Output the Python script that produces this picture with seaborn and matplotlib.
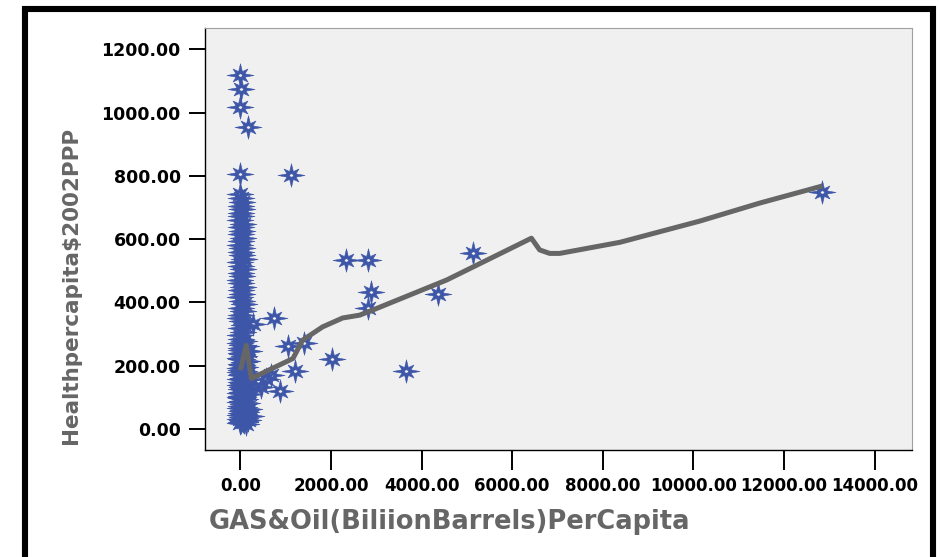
import numpy as np
import pandas as pd
import matplotlib
matplotlib.use("Agg")
import matplotlib.pyplot as plt
from matplotlib.path import Path
from matplotlib.patches import Rectangle
import seaborn as sns

# Countries far from the main cluster
oil_outliers = [0, 22, 0, 168, 0, 1126, 2331, 2817, 2876, 2817, 4362, 3664, 2015,
                1214, 1051, 1397, 735, 278, 868, 574, 684, 464, 316, 5128, 12831]
health_outliers = [1117, 1074, 1017, 954, 805, 803, 534, 534, 432, 381, 427, 184, 221,
                   184, 262, 273, 350, 331, 120, 157, 171, 134, 134, 556, 749]

# Countries with little or no gas & oil per capita
oil_cluster = [0, 15, 30, 5, 40, 10, 25, 0, 50, 18, 35, 5, 60, 22, 0, 45, 12, 30, 70, 3,
               25, 55, 8, 38, 0, 20, 65, 10, 42, 0, 28, 80, 6, 50, 15, 0, 35, 75, 10, 55,
               0, 25, 90,
               0, 30, 120, 10, 60, 200, 5, 40, 90, 0, 25, 150, 70, 8, 45, 110, 0, 20, 80,
               180, 35, 5, 130, 60, 0, 95, 15, 50, 160, 0, 30, 75, 10, 120, 45, 0, 200,
               25, 65, 5, 100, 35, 0, 150, 55, 15, 85, 0, 190, 40, 120, 8, 70, 0, 230,
               28, 100, 0, 160, 50, 12, 80, 0, 120, 35, 60, 0, 20, 0, 40, 10]
health_cluster = [742, 731, 718, 706, 695, 684, 672, 660, 649, 638, 626, 615, 604, 593,
                  582, 571, 560, 549, 538, 527, 516, 505, 494, 483, 472, 461, 450, 439,
                  428, 417, 406, 395, 384, 373, 362, 351, 340, 329, 318, 307, 296, 285,
                  278,
                  272, 266, 262, 256, 250, 246, 241, 236, 231, 226, 221, 216, 211, 206,
                  201, 197, 192, 187, 183, 178, 174, 170, 166, 162, 158, 154, 150, 146,
                  142, 138, 134, 130, 126, 122, 118, 114, 110, 106, 102, 98, 94, 90, 86,
                  82, 78, 74, 70, 66, 62, 58, 55, 52, 48, 45, 42, 39, 36, 33, 30, 27, 24,
                  21, 18, 16, 30, 60, 100, 140, 180, 220, 250]

# Smoothed fit line
fit_oil = [0, 132, 243, 1161, 1375, 1817, 2258, 2634, 2921, 4554, 6424, 6607, 6828,
           7049, 8376, 10139, 11464, 12847]
fit_health = [186, 265, 160, 223, 281, 323, 351, 360, 376, 471, 603, 566, 555,
              555, 590, 657, 714, 768]

x_ticks = [0, 2000, 4000, 6000, 8000, 10000, 12000, 14000]
y_ticks = [0, 200, 400, 600, 800, 1000, 1200]

points = pd.DataFrame({
    "oil": oil_cluster + oil_outliers,
    "health": health_cluster + health_outliers,
})
fit = pd.DataFrame({"oil": fit_oil, "health": fit_health})


def star_with_hole(xscale=1.15, r_card=1.0, r_diag=0.78, r_in=0.36, r_hole=0.14):
    """Eight-pointed star (long cardinal points) with a small hollow centre."""
    k = np.arange(16)
    ang = np.deg2rad(90 + k * 22.5)
    r = np.where(k % 2 == 1, r_in, np.where(k % 4 == 0, r_card, r_diag))
    star = np.column_stack([r * np.cos(ang) * xscale, r * np.sin(ang)])
    hang = np.deg2rad(90 - np.arange(16) * 22.5)
    hole = np.column_stack([r_hole * np.cos(hang) * xscale, r_hole * np.sin(hang)])
    verts = np.vstack([star, star[:1], hole, hole[:1]])
    codes = ([Path.MOVETO] + [Path.LINETO] * 15 + [Path.CLOSEPOLY]) * 2
    return Path(verts, codes)


sns.set_style("white")
plt.rcParams["font.family"] = ["DejaVu Sans"]

fig = plt.figure(figsize=(9.4, 5.57), dpi=100)
ax = fig.add_axes([205 / 940, 1 - 450 / 557, 707 / 940, 422 / 557])
ax.set_facecolor("#f0f0f0")

sns.scatterplot(data=points, x="oil", y="health", ax=ax, marker=star_with_hole(),
                s=380, color="#3d56a8", edgecolor="#3d56a8", linewidth=0.4,
                zorder=2, legend=False)
sns.lineplot(data=fit, x="oil", y="health", ax=ax, sort=False, estimator=None,
             color="#666666", linewidth=3.6, solid_joinstyle="round",
             solid_capstyle="butt", zorder=3)

ax.set_xlim(-780, 14825)
ax.set_ylim(-66, 1267)
ax.set_xticks(x_ticks)
ax.set_yticks(y_ticks)
ax.set_xticklabels([f"{v:.2f}" for v in x_ticks], fontsize=12, fontweight="bold")
ax.set_yticklabels([f"{v:.2f}" for v in y_ticks], fontsize=12.5, fontweight="bold")
ax.tick_params(axis="x", bottom=True, direction="out", length=14.5, width=1.4, pad=5,
               colors="black")
ax.tick_params(axis="y", left=True, direction="out", length=11.5, width=1.4, pad=6,
               colors="black")
ax.set_xlabel("")
ax.set_ylabel("")

for side in ("left", "bottom"):
    ax.spines[side].set_color("black")
    ax.spines[side].set_linewidth(1.0)
for side in ("top", "right"):
    ax.spines[side].set_color("#a0a0a0")
    ax.spines[side].set_linewidth(0.8)

fig.text(450 / 940, 1 - 522 / 557, "GAS&Oil(BiliionBarrels)PerCapita",
         fontsize=18.5, fontweight="bold", color="#666666", ha="center", va="center")
fig.text(71 / 940, 1 - 285 / 557, "Healthpercapita$2002PPP", rotation=90,
         fontsize=15.5, fontweight="bold", color="#666666", ha="center", va="center")

# Heavy frame open at the bottom
frame = Rectangle((25 / 940, -0.2), 908 / 940, 1.2 - 9 / 557,
                  transform=fig.transFigure, fill=False, edgecolor="black",
                  linewidth=4.4, clip_on=False)
fig.add_artist(frame)

fig.savefig("out.png", dpi=100, facecolor="white")
